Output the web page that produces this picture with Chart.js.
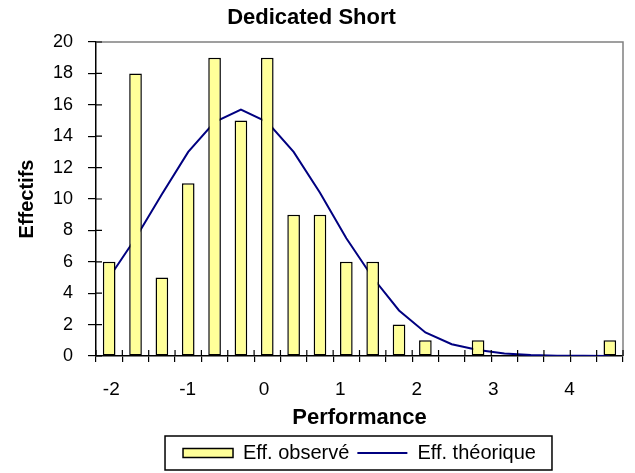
<!DOCTYPE html>
<html>
<head>
<meta charset="utf-8">
<script src="https://cdn.jsdelivr.net/npm/chart.js@4.4.1/dist/chart.umd.min.js"></script>
<style>
  html, body { margin: 0; padding: 0; background: #fff; }
  #wrap { width: 635px; height: 473px; }
</style>
</head>
<body>
<div id="wrap"><canvas id="histChart" width="635" height="473"></canvas></div>
<script>
// Classes de performance (centre de chaque barre)
const categories = ["-2.00", "-1.67", "-1.33", "-1.00", "-0.67", "-0.33", "0.00", "0.33", "0.67", "1.00",
                    "1.33", "1.67", "2.00", "2.33", "2.67", "3.00", "3.33", "3.67", "4.00", "4.33"];
// Effectifs observés
const observed = [6, 18, 5, 11, 19, 15, 19, 9, 9, 6, 6, 2, 1, 0, 1, 0, 0, 0, 0, 1];
// Effectifs théoriques (courbe normale)
const theoretical = [5.0, 7.5, 10.3, 13.0, 14.9, 15.7, 14.9, 13.0, 10.4, 7.5,
                     5.0, 2.9, 1.5, 0.75, 0.38, 0.16, 0.06, 0.02, 0.01, 0.0];
// Graduations de l'axe Performance
const perfTicks = [-2, -1, 0, 1, 2, 3, 4];
const perfMin = -2.2, perfMax = 4.7;
const countMax = 20, countStep = 2;

Chart.defaults.font.family = "Arial, 'Liberation Sans', sans-serif";
Chart.defaults.color = "#000";

// cadre du graphique, graduations intérieures et cadre de la légende
const extras = {
    id: "extras",
    beforeDatasetsDraw(chart) {
        const { ctx, chartArea: a } = chart;
        ctx.save();
        ctx.strokeStyle = "#808080";
        ctx.lineWidth = 1.5;
        ctx.beginPath();
        ctx.moveTo(a.left, a.top);
        ctx.lineTo(a.right, a.top);
        ctx.lineTo(a.right, a.bottom);
        ctx.stroke();
        ctx.restore();
    },
    afterDatasetsDraw(chart) {
        const { ctx, chartArea: a, scales } = chart;
        ctx.save();
        ctx.strokeStyle = "#000";
        ctx.lineWidth = 1.2;
        ctx.beginPath();
        scales.y.ticks.forEach(t => {
            const y = scales.y.getPixelForValue(t.value);
            ctx.moveTo(a.left, y);
            ctx.lineTo(a.left + 6, y);
        });
        for (let i = 0; i <= categories.length; i++) {
            const x = scales.x.getPixelForValue(i - 0.5);
            ctx.moveTo(x, a.bottom);
            ctx.lineTo(x, a.bottom - 6);
        }
        ctx.stroke();
        ctx.restore();
    },
    afterDraw(chart) {
        const boxes = chart.legend.legendHitBoxes;
        if (!boxes || !boxes.length) return;
        const first = boxes[0], last = boxes[boxes.length - 1];
        const cy = first.top + first.height / 2;
        const ctx = chart.ctx;
        ctx.save();
        ctx.strokeStyle = "#000";
        ctx.lineWidth = 1.5;
        ctx.strokeRect(first.left - 18, cy - 17, last.left + last.width + 34 - first.left, 34);
        ctx.restore();
    }
};

const ctx = document.getElementById("histChart").getContext("2d");
const histChart = new Chart(ctx, {
    type: "bar",
    data: {
        labels: categories,
        datasets: [{
            label: "Eff. observé",
            data: observed,
            backgroundColor: "#FFFF99",
            borderColor: "#000",
            borderWidth: 1.5,
            borderSkipped: false,
            barPercentage: 0.48,
            categoryPercentage: 1.0
        }, {
            type: "line",
            label: "Eff. théorique",
            data: theoretical,
            borderColor: "#000080",
            backgroundColor: "#000080",
            borderWidth: 2,
            pointRadius: 0,
            tension: 0,
            fill: false
        }]
    },
    options: {
        responsive: false,
        animation: false,
        layout: { padding: { left: 0, right: 12, top: 0, bottom: 0 } },
        plugins: {
            title: {
                display: true,
                text: "Dedicated Short",
                font: { size: 22, weight: "bold" },
                padding: { top: 5, bottom: 10.6 }
            },
            legend: {
                position: "bottom",
                fullSize: false,
                labels: {
                    font: { size: 20 },
                    padding: 8,
                    usePointStyle: true,
                    pointStyleWidth: 50,
                    boxHeight: 9,
                    generateLabels(chart) {
                        const items = Chart.defaults.plugins.legend.labels.generateLabels(chart);
                        items.forEach((it, i) => { it.pointStyle = i === 0 ? "rect" : "line"; });
                        return items;
                    }
                }
            },
            tooltip: { enabled: false }
        },
        scales: {
            x: {
                type: "category",
                position: "bottom",
                offset: true,
                grid: { offset: true, drawOnChartArea: false, tickLength: 6, color: "#000", lineWidth: 1.2 },
                border: { color: "#000", width: 1.5 },
                ticks: { display: false },
                afterFit(s) { s.height = 6; }
            },
            x2: {
                type: "linear",
                position: "bottom",
                offset: false,
                min: perfMin,
                max: perfMax,
                grid: { display: false, drawTicks: false, offset: false },
                border: { display: false },
                afterBuildTicks(s) { s.ticks = perfTicks.map(v => ({ value: v })); },
                ticks: { font: { size: 19 }, padding: 16, maxRotation: 0 },
                title: {
                    display: true,
                    text: "Performance",
                    font: { size: 22, weight: "bold" },
                    padding: { top: 4, bottom: 3.8 }
                },
                afterFit(s) { s.height = 73; }
            },
            y: {
                min: 0,
                max: countMax,
                grid: { drawOnChartArea: false, tickLength: 8, color: "#000", lineWidth: 1.2 },
                border: { color: "#000", width: 1.5 },
                ticks: { stepSize: countStep, font: { size: 18 }, padding: 15 },
                title: {
                    display: true,
                    text: "Effectifs",
                    font: { size: 20, weight: "bold" },
                    padding: { top: 15, bottom: 0 }
                },
                afterFit(s) { s.width = 96; }
            }
        }
    },
    plugins: [extras]
});
</script>
</body>
</html>
